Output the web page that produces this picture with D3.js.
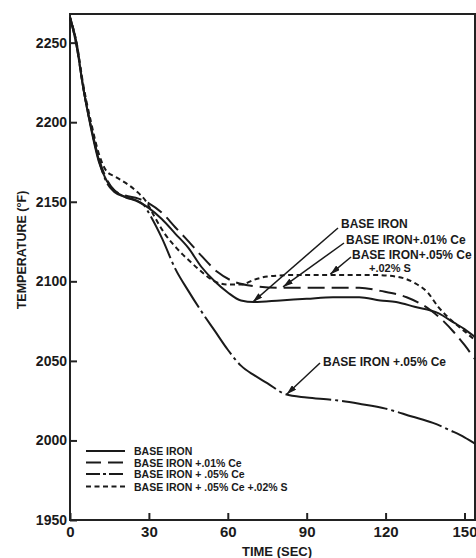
<!DOCTYPE html>
<html>
<head>
<meta charset="utf-8">
<script src="https://cdn.jsdelivr.net/npm/d3@7/dist/d3.min.js"></script>
<style>
  body { margin: 0; background: #fff; }
  text { font-family: "Liberation Sans", Arial, sans-serif; font-weight: bold; fill: #1a1a1a; }
</style>
</head>
<body>
<div id="chart"></div>
<script>
// time (sec) / temperature (F)
let baseIron = [[0,2266],[2.5,2248],[5,2222],[8,2196],[11,2175],[14,2163],[17,2157],[21,2153],[26,2150],[30,2146],[35,2139],[40,2130],[45,2121],[50,2109],[55,2100],[60,2093],[65,2088],[70,2087],[80,2088],[90,2089],[100,2090],[110,2090],[118,2088],[124,2087],[131,2084],[140,2080],[146,2074],[150,2070],[154,2065]];
let ironCe01 = [[0,2266],[2.5,2248],[5,2222],[8,2197],[11,2177],[14,2164],[17,2157],[21,2154],[26,2152],[30,2149],[35,2143],[40,2134],[44,2127],[50,2116],[56,2106],[62,2100],[70,2097],[80,2096],[90,2096],[100,2096],[110,2096],[118,2094],[128,2090],[137,2082],[142,2075],[146,2068],[150,2060],[154,2051]];
let ironCe05 = [[0,2266],[2.5,2250],[5,2222],[8,2197],[11,2176],[14,2162],[17,2156],[21,2153],[25,2151],[28,2148],[31,2140],[35,2127],[40,2108],[45,2094],[50,2081],[55,2069],[60,2057],[65,2047],[70,2041],[75,2036],[82,2029],[90,2027],[100,2025.5],[110,2023],[120,2020],[130,2015],[138,2011],[145,2006],[150,2002],[154,1998]];
let ironCeS = [[0,2266],[2.5,2250],[5,2224],[8,2200],[11,2180],[14,2169],[17,2166],[21,2162],[25,2157],[29,2150],[32,2141],[36,2130],[41,2120],[46,2112],[50,2106],[55,2100],[60,2098],[65,2098],[70,2101],[75,2103],[85,2104],[100,2104],[115,2104],[124,2103],[131,2099],[136,2093],[140,2084],[144,2077],[149,2070],[154,2063]];

let seriesNames = ["BASE  IRON", "BASE  IRON +.01% Ce", "BASE  IRON + .05% Ce", "BASE  IRON + .05% Ce +.02% S"];
let seriesDash = [null, "17,7", "46,4,3,4", "5,3.5"];
let xTicks = [0, 30, 60, 90, 120, 150];
let yTicks = [1950, 2000, 2050, 2100, 2150, 2200, 2250];

// callouts: label lines, arrow tip as [time, temp], arrow tail in px
let callouts = [
    {lines: ["BASE  IRON"], x: 341, y: 228, tip: [69.5, 2087], tail: [338, 228]},
    {lines: ["BASE  IRON+.01% Ce"], x: 346, y: 244, tip: [81, 2096.5], tail: [344, 243]},
    {lines: ["BASE  IRON+.05% Ce", "+.02% S"], x: 352, y: 259, tip: [99, 2104.5], tail: [351, 257]},
    {lines: ["BASE  IRON +.05% Ce"], x: 323, y: 366, tip: [82.4, 2029], tail: [320, 363]}
];

let W = 476, H = 558;
let svg = d3.select("#chart").append("svg")
    .attr("width", W)
    .attr("height", H);

let x = d3.scaleLinear().domain([0, 154]).range([70, 475]);
let y = d3.scaleLinear().domain([1950, 2268]).range([520, 14]);

svg.append("defs").append("marker")
    .attr("id", "arrow")
    .attr("viewBox", "0 0 10 6")
    .attr("refX", 10).attr("refY", 3)
    .attr("markerWidth", 10).attr("markerHeight", 6)
    .attr("markerUnits", "userSpaceOnUse")
    .attr("orient", "auto")
    .append("path").attr("d", "M0,0 L10,3 L0,6 Z").attr("fill", "#1a1a1a");

// frame
svg.append("rect")
    .attr("x", x(0)).attr("y", y(2268))
    .attr("width", x(154) - x(0)).attr("height", y(1950) - y(2268))
    .attr("fill", "none").attr("stroke", "#222").attr("stroke-width", 2);

let yAxis = svg.append("g")
    .attr("transform", "translate(" + x(0) + ",0)")
    .call(d3.axisLeft(y).tickValues(yTicks).tickSizeInner(-7).tickSizeOuter(0).tickPadding(3).tickFormat(d3.format("d")));
yAxis.select(".domain").remove();
yAxis.selectAll("line").attr("stroke", "#222").attr("stroke-width", 2);
yAxis.selectAll("text").style("font-size", "14px").attr("font-family", null).attr("fill", "#1a1a1a");

let xAxis = svg.append("g")
    .attr("transform", "translate(0," + y(1950) + ")")
    .call(d3.axisBottom(x).tickValues(xTicks).tickSizeInner(-7).tickSizeOuter(0).tickPadding(6));
xAxis.select(".domain").remove();
xAxis.selectAll("line").attr("stroke", "#222").attr("stroke-width", 2);
xAxis.selectAll("text").style("font-size", "15px").attr("font-family", null).attr("fill", "#1a1a1a");

// axis titles
svg.append("text")
    .attr("transform", "translate(26,250) rotate(-90)")
    .style("text-anchor", "middle")
    .style("font-size", "12.5px")
    .text("TEMPERATURE (°F)");
svg.append("text")
    .attr("x", 277).attr("y", 556)
    .style("text-anchor", "middle")
    .style("font-size", "13px")
    .text("TIME  (SEC)");

// curves
let line = d3.line()
    .x(function(d) { return x(d[0]); })
    .y(function(d) { return y(d[1]); })
    .curve(d3.curveMonotoneX);

let allSeries = [baseIron, ironCe01, ironCe05, ironCeS];
svg.append("g")
    .selectAll("path")
    .data(allSeries)
    .enter()
    .append("path")
    .attr("d", line)
    .attr("fill", "none")
    .attr("stroke", "#1a1a1a")
    .attr("stroke-width", 2)
    .attr("stroke-dasharray", function(d, i) { return seriesDash[i]; });

// callouts
let co = svg.append("g");
callouts.forEach(function(c) {
    co.append("line")
        .attr("x1", c.tail[0]).attr("y1", c.tail[1])
        .attr("x2", x(c.tip[0])).attr("y2", y(c.tip[1]))
        .attr("stroke", "#1a1a1a").attr("stroke-width", 1.5)
        .attr("marker-end", "url(#arrow)");
    c.lines.forEach(function(t, k) {
        co.append("text")
            .attr("x", c.x + k * 17).attr("y", c.y + k * 13)
            .style("font-size", k ? "11px" : "12px")
            .text(t);
    });
});

// legend
let legendY = [451, 462.5, 474, 486.5];
let legend = svg.append("g");
seriesNames.forEach(function(name, i) {
    legend.append("line")
        .attr("x1", 86).attr("x2", 125)
        .attr("y1", legendY[i]).attr("y2", legendY[i])
        .attr("stroke", "#1a1a1a").attr("stroke-width", 2)
        .attr("stroke-dasharray", i == 2 ? "14,3,3,3" : (i == 1 ? "15,7" : seriesDash[i]));
    legend.append("text")
        .attr("x", 134).attr("y", legendY[i] + 4)
        .style("font-size", "10.5px")
        .text(name);
});
</script>
</body>
</html>
